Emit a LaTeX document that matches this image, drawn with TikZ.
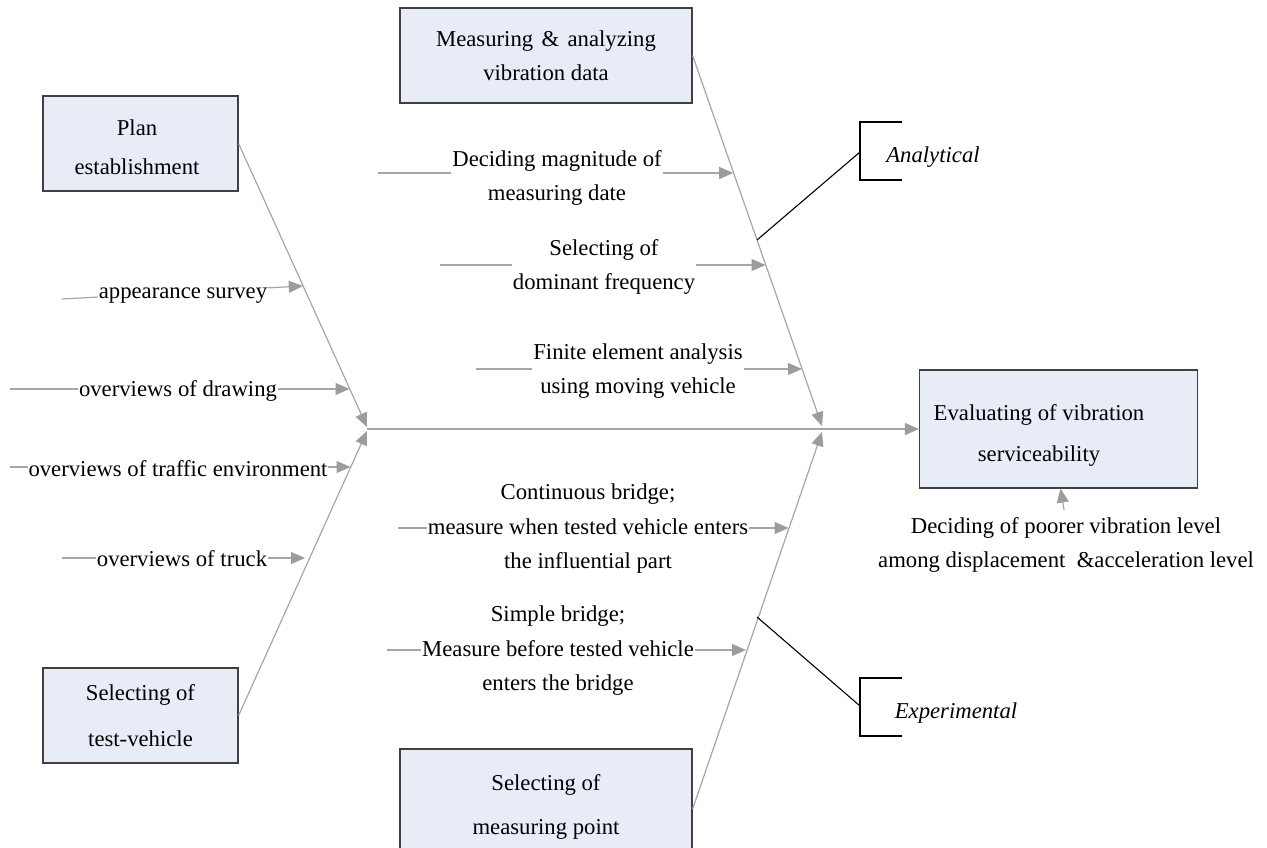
\documentclass[tikz,border=0pt]{standalone}
\usepackage{fontspec}
\setmainfont{Liberation Serif}
\usetikzlibrary{arrows.meta}
\definecolor{boxfill}{HTML}{E7ECF7}
\definecolor{boxline}{HTML}{404040}
\definecolor{bonec}{HTML}{A6A6A6}
\definecolor{tipc}{HTML}{9C9C9C}
\tikzset{
  box/.style={draw=boxline, line width=1.2pt, fill=boxfill, align=center, inner sep=0pt,
              font=\fontsize{22.7}{#1}\selectfont},
  box/.default=36,
  boxtext/.style={align=center, inner sep=0pt, font=\fontsize{22.7}{#1}\selectfont},
  boxtext/.default=36,
  lbl/.style={fill=white, align=center, inner xsep=1pt, inner ysep=0pt,
              font=\fontsize{22.7}{34.5}\selectfont},
  ital/.style={align=center, inner sep=0pt, font=\fontsize{22.7}{34.5}\selectfont\itshape},
  boneline/.style={draw=bonec, line width=1.2pt},
  arr/.style={boneline, -{Triangle[length=14pt,width=12pt,fill=tipc,color=tipc]}},
  brk/.style={draw=black, line width=1.1pt},
}
\begin{document}
\begin{tikzpicture}[x=1pt,y=-1pt]
\useasboundingbox (0,0) rectangle (1267,847);
\clip (0,0) rectangle (1267,847);

% boxes
\node[box, minimum width=195pt, minimum height=95pt] (plan) at (140.5,143.5) {};
\node[boxtext=39] (plantxt) at (137,147) {Plan\\establishment};
\node[box=46, minimum width=195pt, minimum height=95pt] (testv) at (140.5,715.5) {Selecting of\\test-vehicle};
\node[box=34, minimum width=292pt, minimum height=95pt] (meas) at (546,55.5) {Measuring\hspace{0.37em}\&\hspace{0.37em}analyzing\\vibration data};
\node[box=44, minimum width=292pt, minimum height=116pt] (mpoint) at (546,807) {Selecting of\\measuring point};
\node[box, minimum width=278pt, minimum height=118pt] (eval) at (1058.5,429) {};
\node[boxtext=41] (evaltxt) at (1039,435) {Evaluating of vibration\\serviceability};

% junction points
\coordinate (jl) at (367,429);
\coordinate (jl1) at (367,427);
\coordinate (jl2) at (367,431);
\coordinate (jr1) at (822,426);
\coordinate (jr2) at (822,432);

% bones and spine
\draw[arr] (plan.east) -- (jl1);
\draw[arr] (testv.east) -- (jl2);
\draw[arr] (meas.east) -- (jr1);
\draw[arr] ([yshift=-2pt]mpoint.east) -- (jr2);
\draw[arr] (jl) -- (eval.west);

% branch tails and tips
\coordinate (t1) at (62,299);   \coordinate (h1) at (302.8,286);
\coordinate (t2) at (10,389);   \coordinate (h2) at (349.5,389);
\coordinate (t3) at (10,467);   \coordinate (h3) at (350.5,467);
\coordinate (t4) at (62,558);   \coordinate (h4) at (305,558);
\coordinate (t5) at (378,173);  \coordinate (h5) at (733.2,173);
\coordinate (t6) at (440,265);  \coordinate (h6) at (765.5,265);
\coordinate (t7) at (476,369);  \coordinate (h7) at (802,369);
\coordinate (t8) at (398,528);  \coordinate (h8) at (788.5,528);
\coordinate (t9) at (387,650);  \coordinate (h9) at (746,650);

\foreach \i in {1,...,9} { \draw[arr] (t\i) -- (h\i); }

% branch labels
\node[lbl] (l1) at (183,296) {appearance survey};
\node[lbl] (l2) at (178,391) {overviews of drawing};
\node[lbl] (l3) at (178,469) {overviews of traffic environment};
\node[lbl] (l4) at (182,559) {overviews of truck};
\node[lbl] (l5) at (557,178) {Deciding magnitude of\\measuring date};
\node[lbl] (l6) at (604,267) {Selecting of\\dominant frequency};
\node[lbl] (l7) at (638,371) {Finite element analysis\\using moving vehicle};
\node[lbl] (l8) at (588,529) {Continuous bridge;\\measure when tested vehicle enters\\the influential part};
\node[lbl] (l9) at (558,651) {Simple bridge;\\Measure before tested vehicle\\enters the bridge};

% bottom input to evaluation
\node[lbl] (l10) at (1066,545) {Deciding of poorer vibration level\\among displacement\ \ \&acceleration level};
\coordinate (dtail) at (1064,510);
\draw[arr] (dtail) -- ([xshift=2pt]eval.south);

% analytical bracket
\coordinate (an) at (757,240);
\coordinate (anb) at (860,152);
\coordinate (anT) at (860,122); \coordinate (anTe) at (902,122);
\coordinate (anB) at (860,180); \coordinate (anBe) at (902,180);
\draw[brk] (an) -- (anb);
\draw[brk] (anTe) -- (anT) -- (anB) -- (anBe);
\node[ital] (analyt) at (933,157) {Analytical};

% experimental bracket
\coordinate (ex) at (757,617);
\coordinate (exb) at (860,706);
\coordinate (exT) at (860,678); \coordinate (exTe) at (902,678);
\coordinate (exB) at (860,736); \coordinate (exBe) at (902,736);
\draw[brk] (ex) -- (exb);
\draw[brk] (exTe) -- (exT) -- (exB) -- (exBe);
\node[ital] (exper) at (956,713) {Experimental};
\end{tikzpicture}
\end{document}
